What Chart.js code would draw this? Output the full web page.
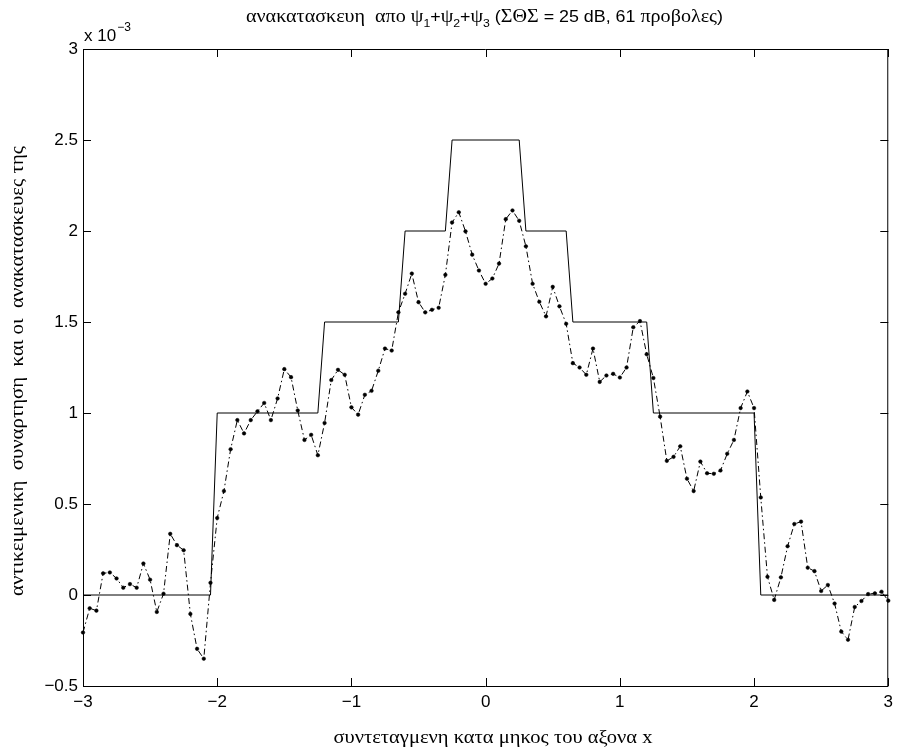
<!DOCTYPE html>
<html>
<head>
<meta charset="utf-8">
<script src="https://cdn.jsdelivr.net/npm/chart.js@4/dist/chart.umd.min.js"></script>
<style>
    html, body { margin: 0; padding: 0; background: #fff; }
    canvas { display: block; }
</style>
</head>
<body>
<canvas id="chart" width="899" height="751"></canvas>
<script>
// sampling grid of the reconstruction: x = -3 ... 3, step 0.05 (121 samples)
const sampleStart = -3;
const sampleStep = 0.05;

// objective function (staircase), breakpoints, values in units of 1e-3
const stepX = [-3, -2.05, -2, -1.25, -1.2, -0.65, -0.6, -0.3, -0.25, 0.25, 0.3, 0.6, 0.65, 1.2, 1.25, 2, 2.05, 3];
const stepY = [0, 0, 1, 1, 1.5, 1.5, 2, 2, 2.5, 2.5, 2, 2, 1.5, 1.5, 1, 1, 0, 0];

// reconstruction from psi1+psi2+psi3, values in units of 1e-3
const reconY = [
    -0.206, -0.073, -0.086, 0.119, 0.124, 0.091, 0.040, 0.060, 0.040, 0.173,
    0.084, -0.093, 0.007, 0.336, 0.274, 0.246, -0.104, -0.296, -0.350, 0.067,
    0.423, 0.571, 0.801, 0.961, 0.888, 0.961, 1.009, 1.055, 0.961, 1.080,
    1.241, 1.197, 1.014, 0.852, 0.880, 0.768, 0.945, 1.181, 1.237, 1.210,
    1.031, 0.991, 1.100, 1.122, 1.232, 1.354, 1.343, 1.553, 1.655, 1.766,
    1.609, 1.553, 1.567, 1.578, 1.759, 2.047, 2.103, 1.998, 1.870, 1.783,
    1.710, 1.739, 1.821, 2.065, 2.113, 2.056, 1.916, 1.710, 1.611, 1.531,
    1.693, 1.586, 1.490, 1.274, 1.250, 1.210, 1.354, 1.171, 1.206, 1.215,
    1.195, 1.250, 1.471, 1.505, 1.323, 1.192, 0.980, 0.737, 0.759, 0.817,
    0.639, 0.571, 0.733, 0.669, 0.666, 0.684, 0.776, 0.852, 1.027, 1.118,
    1.027, 0.536, 0.100, -0.027, 0.097, 0.268, 0.390, 0.403, 0.150, 0.131,
    0.022, 0.055, -0.047, -0.201, -0.246, -0.066, -0.033, 0.005, 0.009, 0.018,
    -0.031
];

// axis ticks
const xTicks = [-3, -2, -1, 0, 1, 2, 3];
const yTicks = [-0.5, 0, 0.5, 1, 1.5, 2, 2.5, 3];

const xLabel = 'συντεταγμενη κατα μηκος του αξονα x';
const yLabel = 'αντικειμενικη  συναρτηση  και οι  ανακατασκευες της';

const SANS = '"Liberation Sans", Arial, sans-serif';
const SERIF = '"Liberation Serif", "Times New Roman", serif';

function fmt(v) {
    return v < 0 ? '\u2212' + String(-v) : String(v);
}

const stepData = stepX.map((x, i) => ({ x: x, y: stepY[i] }));
const reconData = reconY.map((y, i) => ({ x: sampleStart + i * sampleStep, y: y }));

// draw text stretched to a given width (the greek glyphs of the original are wider)
function wideText(ctx, text, cx, cy, width) {
    const w = ctx.measureText(text).width;
    ctx.save();
    ctx.translate(cx, cy);
    ctx.scale(width / w, 1);
    ctx.textAlign = 'center';
    ctx.fillText(text, 0, 0);
    ctx.restore();
}

// MATLAB-like frame: box, inward ticks, exponent, title with subscripts, labels
const matlabFrame = {
    id: 'matlabFrame',
    afterDraw(chart) {
        const ctx = chart.ctx;
        const { left, right, top, bottom } = chart.chartArea;
        const xs = chart.scales.x;
        const ys = chart.scales.y;
        const tick = 8;

        ctx.save();
        ctx.strokeStyle = '#000';
        ctx.lineWidth = 1;
        ctx.beginPath();
        ctx.rect(left + 0.5, top + 0.5, right - left - 1, bottom - top);
        xTicks.forEach(v => {
            const px = Math.round(xs.getPixelForValue(v)) + 0.5;
            ctx.moveTo(px, bottom); ctx.lineTo(px, bottom - tick);
            ctx.moveTo(px, top); ctx.lineTo(px, top + tick);
        });
        yTicks.forEach(v => {
            const py = Math.round(ys.getPixelForValue(v)) + 0.5;
            ctx.moveTo(left, py); ctx.lineTo(left + tick, py);
            ctx.moveTo(right, py); ctx.lineTo(right - tick, py);
        });
        ctx.stroke();

        ctx.fillStyle = '#000';
        ctx.textBaseline = 'alphabetic';

        // exponent
        ctx.textAlign = 'left';
        ctx.font = '17px ' + SANS;
        ctx.fillText('x 10', left + 1, 41);
        const w10 = ctx.measureText('x 10').width;
        ctx.font = '12px ' + SANS;
        ctx.fillText('\u22123', left + 2 + w10, 31);

        // title with subscripts, stretched to the original width
        const serif = '18px ' + SERIF;
        const sans = '16px ' + SANS;
        const sub = '11px ' + SANS;
        const parts = [
            ['ανακατασκευη  απο ', serif, 0],
            ['ψ', serif, 0], ['1', sub, 5], ['+', sans, 0],
            ['ψ', serif, 0], ['2', sub, 5], ['+', sans, 0],
            ['ψ', serif, 0], ['3', sub, 5],
            [' (', sans, 0], ['ΣΘΣ', serif, 0], [' = 25 dB, 61 ', sans, 0],
            ['προβολες', serif, 0], [')', sans, 0]
        ];
        let total = 0;
        parts.forEach(p => { ctx.font = p[1]; total += ctx.measureText(p[0]).width; });
        const titleWidth = 477;
        ctx.save();
        ctx.translate(246, 22);
        ctx.scale(titleWidth / total, 1);
        let cx = 0;
        parts.forEach(p => {
            ctx.font = p[1];
            ctx.fillText(p[0], cx, p[2]);
            cx += ctx.measureText(p[0]).width;
        });
        ctx.restore();

        // x label
        ctx.font = '18px ' + SERIF;
        wideText(ctx, xLabel, 493, 743, 319);

        // y label
        ctx.save();
        ctx.translate(23, 371);
        ctx.rotate(-Math.PI / 2);
        wideText(ctx, yLabel, 0, 0, 450);
        ctx.restore();

        ctx.restore();
    }
};

new Chart(document.getElementById('chart').getContext('2d'), {
    type: 'line',
    data: {
        datasets: [
            {
                label: 'objective',
                data: stepData,
                borderColor: '#000',
                borderWidth: 1,
                pointRadius: 0,
                tension: 0,
                fill: false
            },
            {
                label: 'reconstruction',
                data: reconData,
                borderColor: '#000',
                borderWidth: 1,
                borderDash: [6, 3, 1.5, 3],
                pointRadius: 1.8,
                pointBackgroundColor: '#000',
                pointBorderColor: '#000',
                pointBorderWidth: 0.5,
                tension: 0,
                fill: false,
                clip: 6
            }
        ]
    },
    options: {
        responsive: false,
        animation: false,
        layout: { padding: { top: 49, right: 8, left: 0, bottom: 0 } },
        plugins: {
            legend: { display: false },
            tooltip: { enabled: false }
        },
        scales: {
            x: {
                type: 'linear',
                min: -3,
                max: 3,
                grid: { display: false, drawTicks: false },
                border: { display: false },
                afterFit: scale => { scale.height = 65; },
                afterBuildTicks: scale => { scale.ticks = xTicks.map(v => ({ value: v })); },
                ticks: {
                    padding: 6,
                    color: '#000',
                    font: { family: SANS, size: 17 },
                    maxRotation: 0,
                    callback: v => fmt(v)
                }
            },
            y: {
                min: -0.5,
                max: 3,
                grid: { display: false, drawTicks: false },
                border: { display: false },
                afterFit: scale => { scale.width = 83; },
                afterBuildTicks: scale => { scale.ticks = yTicks.map(v => ({ value: v })); },
                ticks: {
                    padding: 5,
                    color: '#000',
                    font: { family: SANS, size: 17 },
                    callback: v => fmt(v)
                }
            }
        }
    },
    plugins: [matlabFrame]
});
</script>
</body>
</html>
